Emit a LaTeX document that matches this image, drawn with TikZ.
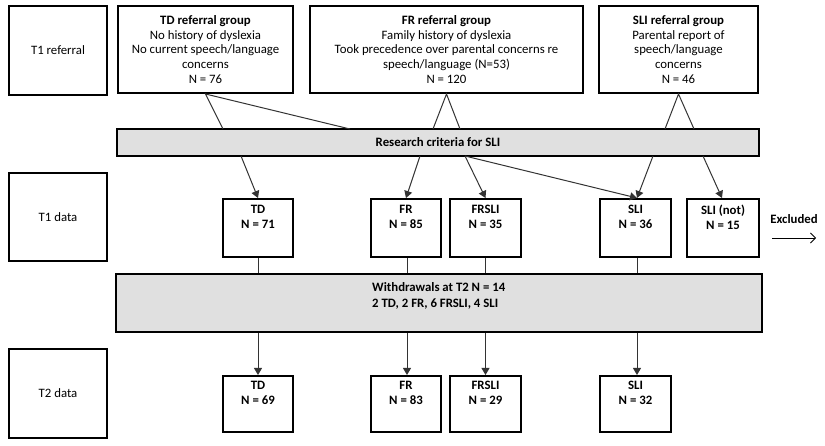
\documentclass[tikz,border=0pt]{standalone}
\usepackage{fontspec}
\setmainfont{Carlito}
\usetikzlibrary{arrows.meta}
\begin{document}
\begin{tikzpicture}[x=1pt,y=-1pt,
  every node/.style={font=\fontsize{12.8}{14.7}\selectfont},
  box/.style={draw=black, line width=2pt, inner sep=0pt, align=center},
  bar/.style={draw=black, line width=2pt, fill=gray!24, inner sep=0pt},
  ln/.style={draw=black!80, line width=1pt},
  arr/.style={ln, -{Triangle[length=7pt,width=8pt]}},
  boxtxt/.style={anchor=north, align=center, font=\fontsize{12.8}{14.7}\selectfont\bfseries, inner sep=0pt}
]
\useasboundingbox (0,0) rectangle (825,446);

% row labels
\node[box, minimum width=98pt, minimum height=89pt] (lab1) at (58,50.5) {T1 referral};
\node[box, minimum width=98pt, minimum height=88pt] (lab2) at (58,217) {T1 data};
\node[box, minimum width=98pt, minimum height=89pt] (lab3) at (58,393.5) {T2 data};

% referral groups
\node[box, minimum width=175pt, minimum height=87pt] (tdref) at (205.5,49.5)
  {\textbf{TD referral group}\\No history of dyslexia\\No current speech/language\\concerns\\N = 76};
\node[box, minimum width=273pt, minimum height=87pt] (frref) at (446.5,49.5)
  {\textbf{FR referral group}\\Family history of dyslexia\\Took precedence over parental concerns re\\speech/language (N=53)\\N = 120};
\node[box, minimum width=159pt, minimum height=87pt] (sliref) at (678.5,49.5)
  {\textbf{SLI referral group}\\Parental report of\\speech/language\\concerns\\N = 46};

% research criteria bar
\node[bar, minimum width=642pt, minimum height=27pt, font=\fontsize{12.8}{14.7}\selectfont\bfseries] (crit) at (438,142.5) {Research criteria for SLI};

% T1 data boxes
\node[box, minimum width=70pt, minimum height=58pt] (td1) at (258,228) {};
\node[box, minimum width=70pt, minimum height=58pt] (fr1) at (406,228) {};
\node[box, minimum width=71pt, minimum height=58pt] (frsli1) at (485.5,228) {};
\node[box, minimum width=71pt, minimum height=58pt] (sli1) at (635.5,228) {};
\node[box, minimum width=72pt, minimum height=58pt] (slin1) at (723,228) {};
\node[boxtxt] (td1t) at ([yshift=-7pt]td1.north) {TD\\N = 71};
\node[boxtxt] (fr1t) at ([yshift=-7pt]fr1.north) {FR\\N = 85};
\node[boxtxt] (frsli1t) at ([yshift=-7pt]frsli1.north) {FRSLI\\N = 35};
\node[boxtxt] (sli1t) at ([yshift=-7pt]sli1.north) {SLI\\N = 36};
\node[boxtxt] (slin1t) at ([yshift=-7pt]slin1.north) {SLI (not)\\N = 15};

% excluded
\node[font=\fontsize{12.8}{14.7}\selectfont\bfseries] (excl) at (794,219) {Excluded};
\coordinate (ex1) at (772,238);
\coordinate (ex2) at (816,238);
\draw[line width=0.8pt, -{Straight Barb[length=5pt,width=10pt]}] (ex1) -- (ex2);

% withdrawals bar
\node[bar, minimum width=646pt, minimum height=58pt] (wd) at (439,303) {};
\node[anchor=west, align=left, inner sep=0pt, font=\fontsize{12.8}{15.5}\selectfont\bfseries] (wdt) at (372,296) {Withdrawals at T2 N = 14\\2 TD, 2 FR, 6 FRSLI, 4 SLI};

% T2 data boxes
\node[box, minimum width=70pt, minimum height=56pt] (td2) at (258,404) {};
\node[box, minimum width=70pt, minimum height=56pt] (fr2) at (406,404) {};
\node[box, minimum width=71pt, minimum height=56pt] (frsli2) at (485.5,404) {};
\node[box, minimum width=71pt, minimum height=56pt] (sli2) at (635.5,404) {};
\node[boxtxt] (td2t) at ([yshift=-6pt]td2.north) {TD\\N = 69};
\node[boxtxt] (fr2t) at ([yshift=-6pt]fr2.north) {FR\\N = 83};
\node[boxtxt] (frsli2t) at ([yshift=-6pt]frsli2.north) {FRSLI\\N = 29};
\node[boxtxt] (sli2t) at ([yshift=-6pt]sli2.north) {SLI\\N = 32};

% referral to criteria
\coordinate (ca) at (223,129);
\coordinate (cb) at (350,129);
\coordinate (cc) at (433,129);
\coordinate (cd) at (460,129);
\coordinate (ce) at (665,129);
\coordinate (cf) at (694,129);
\draw[ln] (ca) -- (tdref.south) -- (cb);
\draw[ln] (cc) -- (frref.south) -- (cd);
\draw[ln] (ce) -- (sliref.south) -- (cf);

% criteria to T1 data
\coordinate (da) at (241,156);
\coordinate (db) at (420,156);
\coordinate (dc) at (465,156);
\coordinate (dd) at (653,156);
\coordinate (de) at (703,156);
\draw[arr] (da) -- (td1.north);
\draw[arr] (db) -- (fr1.north);
\draw[arr] (dc) -- (frsli1.north);
\draw[arr] (dc) -- ([xshift=1.5pt]sli1.north);
\draw[arr] (dd) -- ([xshift=1.5pt]sli1.north);
\draw[arr] (de) -- ([xshift=-1pt]slin1.north);

% T1 data to withdrawals
\draw[ln] (td1.south) -- (td1.south |- wd.north);
\draw[ln] ([xshift=1pt]fr1.south) -- ([xshift=1pt]fr1.south |- wd.north);
\draw[ln] (frsli1.south) -- (frsli1.south |- wd.north);
\draw[ln] ([xshift=1.5pt]sli1.south) -- ([xshift=1.5pt]sli1.south |- wd.north);

% withdrawals to T2 data
\draw[arr] (td2.north |- wd.south) -- (td2.north);
\draw[arr] ([xshift=1pt]fr2.north |- wd.south) -- ([xshift=1pt]fr2.north);
\draw[arr] (frsli2.north |- wd.south) -- (frsli2.north);
\draw[arr] ([xshift=1.5pt]sli2.north |- wd.south) -- ([xshift=1.5pt]sli2.north);
\end{tikzpicture}
\end{document}
